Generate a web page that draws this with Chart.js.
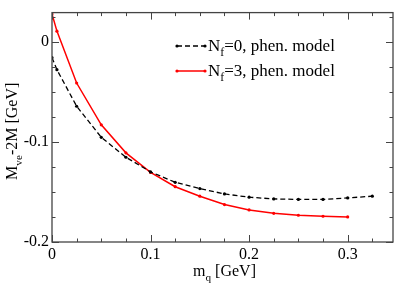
<!DOCTYPE html>
<html>
<head>
<meta charset="utf-8">
<script src="https://cdn.jsdelivr.net/npm/chart.js@4/dist/chart.umd.min.js"></script>
<style>
  html, body { margin: 0; padding: 0; background: #fff; }
  #wrap { width: 398px; height: 284px; }
</style>
</head>
<body>
<div id="wrap"><canvas id="chart"></canvas></div>
<script>
// quark mass values (GeV)
const mqNf0 = [0, 0.005, 0.025, 0.05, 0.075, 0.1, 0.125, 0.15, 0.175, 0.2, 0.225, 0.25, 0.275, 0.3, 0.325];
const mqNf3 = [0, 0.005, 0.025, 0.05, 0.075, 0.1, 0.125, 0.15, 0.175, 0.2, 0.225, 0.25, 0.275, 0.3];
// M_ve - 2M (GeV)
const dMNf0 = [-0.016, -0.028, -0.0645, -0.0955, -0.1154, -0.130, -0.1404, -0.1467, -0.152, -0.1553, -0.157, -0.1575, -0.1575, -0.156, -0.1543];
const dMNf3 = [0.0276, 0.0105, -0.0413, -0.083, -0.111, -0.1305, -0.1448, -0.1543, -0.1626, -0.168, -0.1714, -0.1733, -0.1743, -0.175];

const seriesLabels = ['=0, phen. model', '=3, phen. model'];
const xTicks = [0, 0.1, 0.2, 0.3];
const yTicks = [0, -0.1, -0.2];
const minorStep = 0.025;

const SERIF = '"Liberation Serif", "Times New Roman", serif';

// draw text pieces, some of them lowered as subscripts
function richText(ctx, parts, x, y, size) {
  let cx = x;
  parts.forEach(p => {
    const s = p.sub ? size * 0.7 : size;
    ctx.font = s + 'px ' + SERIF;
    ctx.fillText(p.t, cx, y + (p.sub ? size * 0.3 : 0));
    cx += ctx.measureText(p.t).width;
  });
  return cx - x;
}
function richWidth(ctx, parts, size) {
  let w = 0;
  parts.forEach(p => {
    ctx.font = (p.sub ? size * 0.7 : size) + 'px ' + SERIF;
    w += ctx.measureText(p.t).width;
  });
  return w;
}

const framePlugin = {
  id: 'frame',
  afterDraw(chart) {
    const ctx = chart.ctx;
    const a = chart.chartArea;
    const xs = chart.scales.x, ys = chart.scales.y;
    ctx.save();
    ctx.strokeStyle = '#444';
    ctx.lineWidth = 1.3;
    ctx.strokeRect(a.left, a.top, a.right - a.left, a.bottom - a.top);

    ctx.lineWidth = 1;
    ctx.beginPath();
    // x ticks, bottom and top, pointing inward
    for (let v = xs.min; v <= xs.max + 1e-9; v += minorStep) {
      const major = xTicks.some(t => Math.abs(t - v) < 1e-6);
      const len = major ? 7 : 3.5;
      const px = Math.round(xs.getPixelForValue(v)) + 0.5;
      ctx.moveTo(px, a.bottom); ctx.lineTo(px, a.bottom - len);
      ctx.moveTo(px, a.top); ctx.lineTo(px, a.top + len);
    }
    // y ticks, left and right
    for (let v = -0.2; v <= ys.max + 1e-9; v += minorStep) {
      const major = yTicks.some(t => Math.abs(t - v) < 1e-6);
      const len = major ? 7 : 3.5;
      const py = Math.round(ys.getPixelForValue(v)) + 0.5;
      ctx.moveTo(a.left, py); ctx.lineTo(a.left + len, py);
      ctx.moveTo(a.right, py); ctx.lineTo(a.right - len, py);
    }
    ctx.stroke();

    // axis titles
    ctx.fillStyle = '#000';
    ctx.textBaseline = 'alphabetic';
    const xt = [{t: 'm'}, {t: 'q', sub: true}, {t: ' [GeV]'}];
    const xw = richWidth(ctx, xt, 16);
    richText(ctx, xt, (a.left + a.right) / 2 - xw / 2 + 2, 276, 16);

    const yt = [{t: 'M'}, {t: 've', sub: true}, {t: '-2M [GeV]'}];
    const yw = richWidth(ctx, yt, 16);
    ctx.save();
    ctx.translate(17, (a.top + a.bottom) / 2 + 4);
    ctx.rotate(-Math.PI / 2);
    richText(ctx, yt, -yw / 2, 0, 16);
    ctx.restore();

    // legend
    const rows = [{ ds: chart.data.datasets[0], y: 46 }, { ds: chart.data.datasets[1], y: 71 }];
    rows.forEach((r, i) => {
      ctx.save();
      ctx.strokeStyle = r.ds.borderColor;
      ctx.lineWidth = r.ds.borderWidth;
      ctx.setLineDash(r.ds.borderDash || []);
      ctx.beginPath();
      ctx.moveTo(177, r.y); ctx.lineTo(205, r.y);
      ctx.stroke();
      ctx.setLineDash([]);
      ctx.fillStyle = r.ds.pointBackgroundColor;
      [177, 205].forEach(px => {
        ctx.beginPath(); ctx.arc(px, r.y, 1.6, 0, Math.PI * 2); ctx.fill();
      });
      ctx.restore();
      ctx.fillStyle = '#000';
      richText(ctx, [{t: 'N'}, {t: 'f', sub: true}, {t: seriesLabels[i]}], 208, r.y + 5, 17);
    });
    ctx.restore();
  }
};

new Chart(document.getElementById('chart'), {
  type: 'line',
  data: {
    datasets: [
      {
        label: 'Nf=0, phen. model',
        data: mqNf0.map((x, i) => ({ x: x, y: dMNf0[i] })),
        borderColor: '#000',
        backgroundColor: '#000',
        pointBackgroundColor: '#000',
        pointBorderColor: '#000',
        borderWidth: 1.3,
        borderDash: [5, 3],
        pointRadius: 1.6,
        pointBorderWidth: 0,
        tension: 0
      },
      {
        label: 'Nf=3, phen. model',
        data: mqNf3.map((x, i) => ({ x: x, y: dMNf3[i] })),
        borderColor: '#ff0000',
        backgroundColor: '#ff0000',
        pointBackgroundColor: '#ff0000',
        pointBorderColor: '#ff0000',
        borderWidth: 1.5,
        pointRadius: 1.6,
        pointBorderWidth: 0,
        tension: 0
      }
    ]
  },
  options: {
    responsive: true,
    maintainAspectRatio: false,
    animation: false,
    layout: { padding: { top: 2, right: 5, left: 0, bottom: 0 } },
    plugins: { legend: { display: false }, tooltip: { enabled: false } },
    scales: {
      x: {
        type: 'linear',
        min: 0,
        max: 0.346,
        grid: { display: false, drawTicks: false },
        border: { display: false },
        afterBuildTicks: s => { s.ticks = xTicks.map(v => ({ value: v })); },
        afterFit: s => { s.height = 42; },
        ticks: {
          color: '#000',
          padding: 3,
          maxRotation: 0,
          font: { family: SERIF, size: 16 },
          callback: v => String(v)
        }
      },
      y: {
        type: 'linear',
        min: -0.2,
        max: 0.029,
        grid: { display: false, drawTicks: false },
        border: { display: false },
        afterBuildTicks: s => { s.ticks = yTicks.map(v => ({ value: v })); },
        afterFit: s => { s.width = 52; },
        ticks: {
          color: '#000',
          padding: 3,
          font: { family: SERIF, size: 16 },
          callback: v => String(v)
        }
      }
    }
  },
  plugins: [framePlugin]
});
</script>
</body>
</html>
